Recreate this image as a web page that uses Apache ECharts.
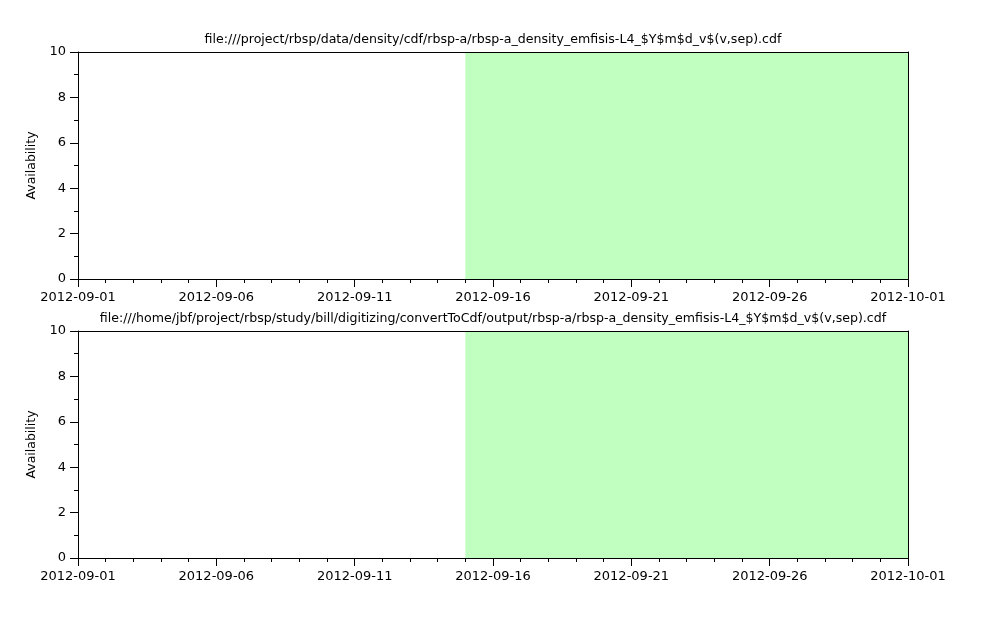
<!DOCTYPE html>
<html>
<head>
<meta charset="utf-8">
<script src="https://cdn.jsdelivr.net/npm/echarts@6/dist/echarts.min.js"></script>
<style>html,body{margin:0;padding:0;background:#fff;}#c{width:999px;height:623px;}</style>
</head>
<body>
<div id="c"></div>
<script>
// ---- data ----
var startDate = "2012-09-01";
var endDate = "2012-10-01";
var titles = [
  "file:///project/rbsp/data/density/cdf/rbsp-a/rbsp-a_density_emfisis-L4_$Y$m$d_v$(v,sep).cdf",
  "file:///home/jbf/project/rbsp/study/bill/digitizing/convertToCdf/output/rbsp-a/rbsp-a_density_emfisis-L4_$Y$m$d_v$(v,sep).cdf"
];
// availability intervals per panel: [start, end]
var availStart = ["2012-09-15", "2012-09-15"];
var availEnd = ["2012-10-01", "2012-10-01"];
var availValue = [10, 10];
var yMin = 0, yMax = 10;

// ---- helpers ----
var DAY = 86400000;
var t0 = Date.parse(startDate + "T00:00:00Z");
function dayOff(s) { return (Date.parse(s + "T00:00:00Z") - t0) / DAY; }
function fmt(d) {
  var dt = new Date(t0 + d * DAY);
  var m = dt.getUTCMonth() + 1, dd = dt.getUTCDate();
  return dt.getUTCFullYear() + "-" + (m < 10 ? "0" : "") + m + "-" + (dd < 10 ? "0" : "") + dd;
}
var xMax = dayOff(endDate);

var FONT = "DejaVu Sans";
var grids = [
  {left: 78, top: 52, width: 830, height: 227},
  {left: 78, top: 331, width: 830, height: 227}
];
var xAxes = [], yAxes = [], series = [], titleArr = [];
grids.forEach(function (g, i) {
  titleArr.push({
    text: titles[i], left: 488, top: g.top - 24, textAlign: 'center',
    textStyle: {fontFamily: FONT, fontSize: 12.6, fontWeight: 'normal', color: '#000'}
  });
  xAxes.push({
    gridIndex: i, type: 'value', min: 0, max: xMax, interval: 5, z: 10,
    axisLine: {onZero: false, lineStyle: {color: '#000', width: 1}},
    axisTick: {show: true, inside: false, length: 8, lineStyle: {color: '#000'}},
    minorTick: {show: true, splitNumber: 5, length: 4, lineStyle: {color: '#000'}},
    splitLine: {show: false},
    axisLabel: {fontFamily: FONT, fontSize: 13, color: '#000', margin: 12, formatter: fmt, showMinLabel: true, showMaxLabel: true}
  });
  xAxes.push({
    gridIndex: i, type: 'value', position: 'top', min: 0, max: xMax, z: 10,
    axisLine: {show: true, onZero: false, lineStyle: {color: '#000', width: 1}},
    axisTick: {show: false}, axisLabel: {show: false}, splitLine: {show: false}
  });
  yAxes.push({
    gridIndex: i, type: 'value', min: yMin, max: yMax, interval: 2, z: 10,
    name: 'Availability', nameLocation: 'middle', nameGap: 35, nameRotate: 90,
    nameTextStyle: {fontFamily: FONT, fontSize: 12.5, color: '#000'},
    axisLine: {show: true, onZero: false, lineStyle: {color: '#000', width: 1}},
    axisTick: {show: true, inside: false, length: 8, lineStyle: {color: '#000'}},
    minorTick: {show: true, splitNumber: 2, length: 4, lineStyle: {color: '#000'}},
    splitLine: {show: false},
    axisLabel: {fontFamily: FONT, fontSize: 13, color: '#000', margin: 12}
  });
  yAxes.push({
    gridIndex: i, type: 'value', position: 'right', min: yMin, max: yMax, z: 10,
    axisLine: {show: true, onZero: false, lineStyle: {color: '#000', width: 1}},
    axisTick: {show: false}, axisLabel: {show: false}, splitLine: {show: false}
  });
  series.push({
    type: 'custom', xAxisIndex: i * 2, yAxisIndex: i * 2, z: 2,
    data: [[dayOff(availStart[i]), dayOff(availEnd[i]), availValue[i]]],
    renderItem: function (params, api) {
      var p0 = api.coord([api.value(0), yMin]);
      var p1 = api.coord([api.value(1), api.value(2)]);
      return {type: 'rect', shape: {x: p0[0], y: p1[1], width: p1[0] - p0[0], height: p0[1] - p1[1]},
              style: {fill: '#c0ffc0'}};
    }
  });
});

var chart = echarts.init(document.getElementById('c'), null, {renderer: 'canvas'});
chart.setOption({
  backgroundColor: '#fff',
  animation: false,
  title: titleArr,
  grid: grids,
  xAxis: xAxes,
  yAxis: yAxes,
  series: series
});
</script>
</body>
</html>
